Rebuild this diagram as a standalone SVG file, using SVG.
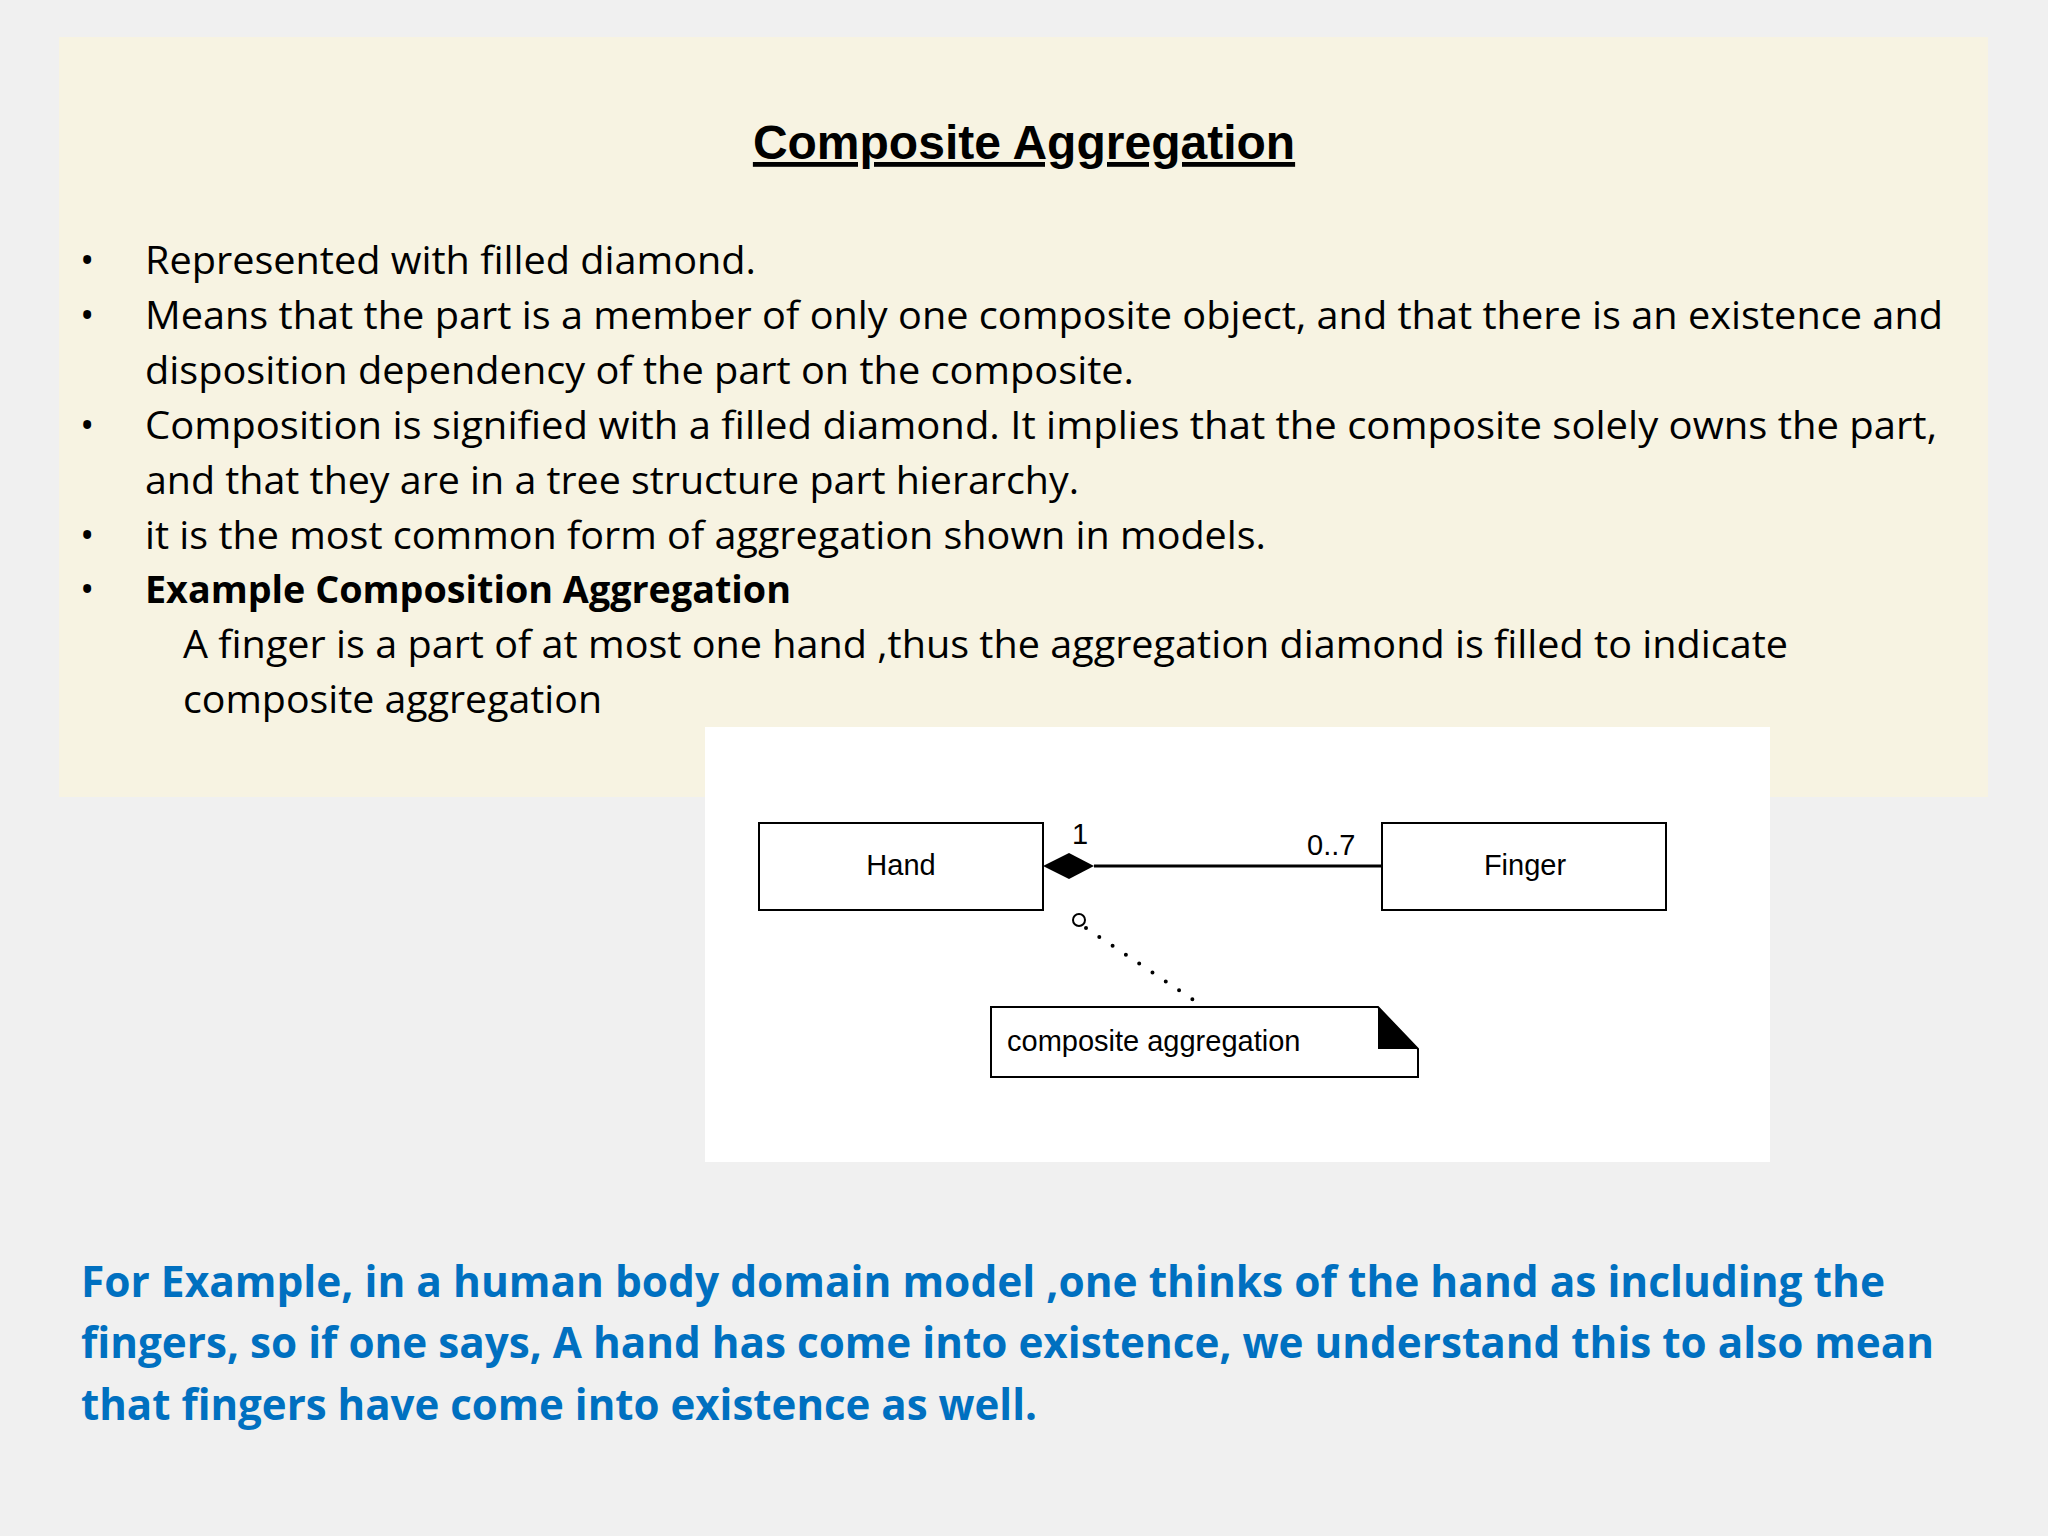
<svg xmlns="http://www.w3.org/2000/svg" width="2048" height="1536" viewBox="0 0 2048 1536">
<style>
.b{font-family:"Open Sans","Noto Sans",sans-serif;font-size:38px;fill:#000}
.u{font-family:"Liberation Sans",Arial,sans-serif;font-size:29px;fill:#000}
.bl{font-family:"Open Sans","Noto Sans",sans-serif;font-size:43px;font-weight:bold;fill:#0070c0}
.k{fill:#fff;stroke:#000;stroke-width:2}
</style>
<rect width="2048" height="1536" fill="#f0f0f0"/>
<rect x="59" y="37" width="1929" height="760" fill="#f7f3e2"/>
<g id="title"><text x="1024" y="159" text-anchor="middle" font-family="Liberation Sans,Arial,sans-serif" font-size="48" font-weight="bold" text-decoration="underline">Composite Aggregation</text></g>
<g id="bullets">
<text class="b" x="80" y="274">•</text><text class="b" x="145" y="274" textLength="611" lengthAdjust="spacingAndGlyphs">Represented with filled diamond.</text>
<text class="b" x="80" y="329">•</text><text class="b" x="145" y="329" textLength="1798" lengthAdjust="spacingAndGlyphs">Means that the part is a member of only one composite object, and that there is an existence and</text>
<text class="b" x="145" y="384" textLength="989" lengthAdjust="spacingAndGlyphs">disposition dependency of the part on the composite.</text>
<text class="b" x="80" y="439">•</text><text class="b" x="145" y="439" textLength="1792" lengthAdjust="spacingAndGlyphs">Composition is signified with a filled diamond.  It implies that the composite solely owns the part,</text>
<text class="b" x="145" y="494" textLength="934" lengthAdjust="spacingAndGlyphs">and that they are in a tree structure part hierarchy.</text>
<text class="b" x="80" y="549">•</text><text class="b" x="145" y="549" textLength="1121" lengthAdjust="spacingAndGlyphs">it is the most common form of aggregation shown in models.</text>
<text class="b" x="80" y="603">•</text><text class="b" x="145" y="603" font-weight="bold" textLength="646" lengthAdjust="spacingAndGlyphs">Example Composition Aggregation</text>
<text class="b" x="183" y="658" textLength="1605" lengthAdjust="spacingAndGlyphs">A finger is a part of at most one hand ,thus the aggregation diamond is filled to indicate</text>
<text class="b" x="183" y="713" textLength="419" lengthAdjust="spacingAndGlyphs">composite aggregation</text>
</g>
<rect x="705" y="727" width="1065" height="435" fill="#fff"/>
<g id="hand"><rect class="k" x="759" y="823" width="284" height="87"/><text class="u" x="901" y="875" text-anchor="middle">Hand</text></g>
<g id="finger"><rect class="k" x="1382" y="823" width="284" height="87"/><text class="u" x="1525" y="875" text-anchor="middle">Finger</text></g>
<g id="note"><path class="k" d="M991,1007 H1378 L1418,1049 V1077 H991 Z"/><path d="M1378,1007 L1418,1049 H1378 Z" fill="#000"/><text class="u" x="1007" y="1051">composite aggregation</text></g>
<g id="connectors">
<line x1="1094" y1="866" x2="1382" y2="866" stroke="#000" stroke-width="3"/>
<path d="M1043,866 L1069,853 L1094,866 L1069,879 Z" fill="#000"/>
<text class="u" x="1072" y="844">1</text>
<text class="u" x="1307" y="855">0..7</text>
<circle cx="1079" cy="920" r="6" fill="none" stroke="#000" stroke-width="2"/>
<line x1="1086" y1="928" x2="1204" y2="1007" stroke="#000" stroke-width="4" stroke-dasharray="0 16" stroke-linecap="round"/>
</g>
<g id="footer">
<text class="bl" x="81" y="1297" textLength="1804" lengthAdjust="spacingAndGlyphs">For Example, in a human body domain model ,one thinks of the hand as including the</text>
<text class="bl" x="81" y="1358" textLength="1853" lengthAdjust="spacingAndGlyphs">fingers, so if one says, A hand has come into existence, we understand this to also mean</text>
<text class="bl" x="81" y="1420" textLength="956" lengthAdjust="spacingAndGlyphs">that fingers have come into existence as well.</text>
</g>
</svg>
